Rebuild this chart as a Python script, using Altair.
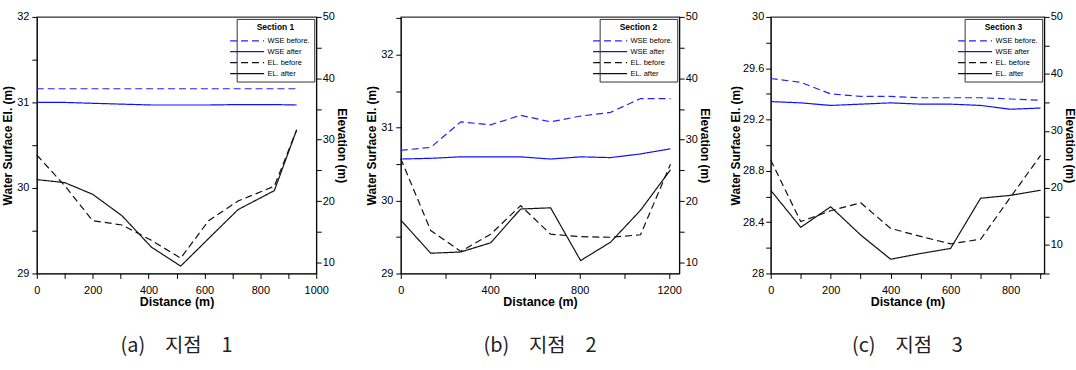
import altair as alt
import pandas as pd

SERIES = ["WSE before.", "WSE after", "EL. before", "EL. after"]
COLORS = ["#2222ff", "#1010ff", "#111111", "#111111"]
DASHES = [[7, 4], [1, 0], [7, 4], [1, 0]]

# ---- Section 1 ----
S1_X = [0, 100, 200, 305, 410, 515, 615, 720, 850, 930]
S1_WSE_BEFORE = [31.16, 31.16, 31.16, 31.16, 31.16, 31.16, 31.16, 31.16, 31.16, 31.16]
S1_WSE_AFTER = [31.0, 31.0, 30.99, 30.98, 30.97, 30.97, 30.97, 30.975, 30.975, 30.97]
S1_EL_BEFORE = [27.5, 22.5, 16.8, 16.1, 13.6, 10.7, 16.8, 20.0, 22.4, 31.6]
S1_EL_AFTER = [23.5, 23.0, 21.1, 17.6, 12.5, 9.4, 13.9, 18.6, 21.7, 31.6]

# ---- Section 2 ----
S2_X = [0, 134, 268, 402, 536, 670, 804, 938, 1072, 1206]
S2_WSE_BEFORE = [30.69, 30.73, 31.08, 31.04, 31.17, 31.08, 31.16, 31.21, 31.40, 31.40]
S2_WSE_AFTER = [30.57, 30.58, 30.60, 30.60, 30.60, 30.57, 30.60, 30.59, 30.64, 30.71]
S2_EL_BEFORE = [26.9, 15.2, 11.8, 14.6, 19.25, 14.6, 14.2, 14.1, 14.5, 26.0]
S2_EL_AFTER = [16.9, 11.5, 11.7, 13.2, 18.7, 18.9, 10.3, 13.3, 18.5, 25.1]

# ---- Section 3 ----
S3_X = [0, 100, 200, 300, 400, 500, 600, 700, 800, 900]
S3_WSE_BEFORE = [29.52, 29.49, 29.40, 29.38, 29.38, 29.37, 29.37, 29.37, 29.36, 29.35]
S3_WSE_AFTER = [29.34, 29.33, 29.31, 29.32, 29.33, 29.32, 29.32, 29.31, 29.28, 29.29]
S3_EL_BEFORE = [24.9, 14.1, 16.0, 17.4, 12.9, 11.5, 10.2, 11.0, 18.4, 25.7]
S3_EL_AFTER = [19.6, 13.1, 16.7, 11.75, 7.5, 8.5, 9.4, 18.2, 18.7, 19.6]

# ---- axis ticks ----
S1_XTICKS = [0, 100, 200, 300, 400, 500, 600, 700, 800, 900, 1000]
S2_XTICKS = [0, 200, 400, 600, 800, 1000, 1200]
S3_XTICKS = [0, 100, 200, 300, 400, 500, 600, 700, 800, 900]
S1_YTICKS = [29, 29.5, 30, 30.5, 31, 31.5, 32]
S2_YTICKS = [29, 29.5, 30, 30.5, 31, 31.5, 32, 32.5]
S3_YTICKS = [28, 28.2, 28.4, 28.6, 28.8, 29, 29.2, 29.4, 29.6, 29.8, 30]
R12_TICKS = [10, 15, 20, 25, 30, 35, 40, 45, 50]
R3_TICKS = [5, 10, 15, 20, 25, 30, 35, 40, 45, 50]

NARROW = "Liberation Sans Narrow, Arial Narrow, Liberation Sans"
BOLD = "Liberation Sans, Arial"


def panel(x, wb, wa, eb, ea, section, caption, xdom, xticks, xstep,
          ydom, yticks, ylabel_expr, rdom, rticks, width, lpad=3, ltpad=2):
    left_rows = []
    right_rows = []
    for i, d in enumerate(x):
        left_rows.append({"dist": d, "value": wb[i], "series": SERIES[0]})
        left_rows.append({"dist": d, "value": wa[i], "series": SERIES[1]})
        right_rows.append({"dist": d, "value": eb[i], "series": SERIES[2]})
        right_rows.append({"dist": d, "value": ea[i], "series": SERIES[3]})
    ldf = pd.DataFrame(left_rows)
    rdf = pd.DataFrame(right_rows)

    xenc = alt.X("dist:Q", scale=alt.Scale(domain=xdom, nice=False, zero=False),
                 axis=alt.Axis(values=xticks, title="Distance (m)", format="d",
                               labelExpr=f"datum.value % {xstep} === 0 ? datum.label : ''"))
    color = alt.Color("series:N", scale=alt.Scale(domain=SERIES, range=COLORS),
                      legend=alt.Legend(title=section))
    dash = alt.StrokeDash("series:N", scale=alt.Scale(domain=SERIES, range=DASHES),
                          legend=alt.Legend(title=section))

    left = alt.Chart(ldf).mark_line(strokeWidth=1.2).encode(
        x=xenc,
        y=alt.Y("value:Q", scale=alt.Scale(domain=ydom, nice=False, zero=False),
                axis=alt.Axis(values=yticks, orient="left", title="Water Surface El. (m)",
                              format=".1~f", labelExpr=ylabel_expr,
                              labelPadding=lpad, titlePadding=ltpad)),
        color=color, strokeDash=dash, order=alt.Order("dist:Q"),
    )
    right = alt.Chart(rdf).mark_line(strokeWidth=1.2).encode(
        x=xenc,
        y=alt.Y("value:Q", scale=alt.Scale(domain=rdom, nice=False, zero=False),
                axis=alt.Axis(values=rticks, orient="right", title="Elevation (m)",
                              titlePadding=0, labelPadding=1,
                              labelExpr="datum.value % 10 === 0 ? datum.label : ''")),
        color=color, strokeDash=dash, order=alt.Order("dist:Q"),
    )
    return alt.layer(left, right).resolve_scale(y="independent").properties(
        width=width, height=258,
        title=alt.TitleParams(caption, orient="bottom", anchor="middle", frame="group",
                              font="Noto Sans CJK KR", fontSize=20, fontWeight="normal",
                              color="#222222", offset=28),
    )


p1 = panel(S1_X, S1_WSE_BEFORE, S1_WSE_AFTER, S1_EL_BEFORE, S1_EL_AFTER,
           "Section 1", "(a)\u3000지점\u30001", [0, 1000], S1_XTICKS, 200,
           [29, 32], S1_YTICKS, "datum.value % 1 === 0 ? datum.label : ''",
           [8.2, 50], R12_TICKS, 281)
p2 = panel(S2_X, S2_WSE_BEFORE, S2_WSE_AFTER, S2_EL_BEFORE, S2_EL_AFTER,
           "Section 2", "(b)\u3000지점\u30002", [0, 1245], S2_XTICKS, 400,
           [29, 32.52], S2_YTICKS, "datum.value % 1 === 0 ? datum.label : ''",
           [8.2, 50], R12_TICKS, 280)
p3 = panel(S3_X, S3_WSE_BEFORE, S3_WSE_AFTER, S3_EL_BEFORE, S3_EL_AFTER,
           "Section 3", "(c)\u3000지점\u30003", [0, 912], S3_XTICKS, 200,
           [28, 30], S3_YTICKS, "abs(round(datum.value * 10)) % 4 === 0 ? datum.label : ''",
           [5, 50], R3_TICKS, 275, lpad=2, ltpad=0)

chart = alt.hconcat(p1, p2, p3, spacing=17).resolve_scale(
    color="independent", strokeDash="independent"
).resolve_legend(color="independent", strokeDash="independent").properties(
    padding={"left": 1, "top": 9, "right": 0, "bottom": 2}
).configure(
    background="white"
).configure_view(
    stroke="#333333", strokeWidth=1.2
).configure_axis(
    grid=False, domainColor="#000000", tickColor="#000000", tickSize=5,
    labelFont=NARROW, labelFontSize=11, labelColor="#000000", labelPadding=3,
    labelFlush=False, labelOverlap=False,
    titleFont=BOLD, titleFontSize=12, titleFontWeight="bold", titleColor="#000000",
    titlePadding=2,
).configure_axisX(
    labelPadding=6, titlePadding=0, titleFont=NARROW, titleFontSize=12.5,
).configure_legend(
    orient="top-right", offset=2, padding=4, fillColor="white", strokeColor="#333333",
    titleFont=NARROW, titleFontSize=8.5, titleFontWeight="bold", titleColor="#000000",
    titleAnchor="middle", titlePadding=3,
    labelFont=NARROW, labelFontSize=7.5, labelColor="#000000", labelOffset=14,
    symbolType="M-3,0H3", symbolSize=130, symbolStrokeWidth=1.3, rowPadding=1,
)

chart.save("out.html", embed_options={"renderer": "svg", "actions": False})
